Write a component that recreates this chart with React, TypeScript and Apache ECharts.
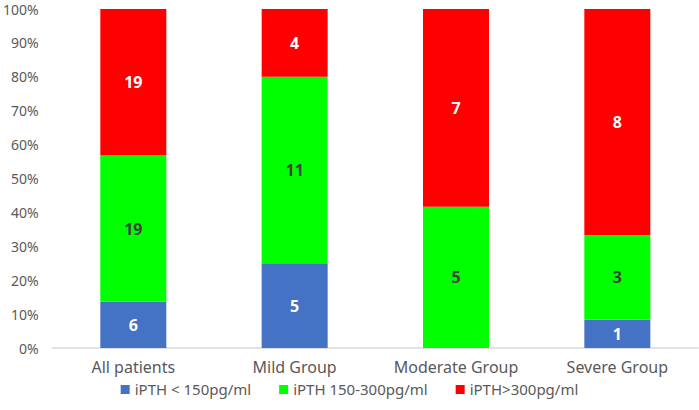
import React, { useEffect, useRef } from "react";
import * as echarts from "echarts";

const categories = ["All patients", "Mild Group", "Moderate Group", "Severe Group"];
const seriesNames = ["iPTH < 150pg/ml", "iPTH 150-300pg/ml", "iPTH>300pg/ml"];
const lowCounts = [6, 5, 0, 1];
const midCounts = [19, 11, 5, 3];
const highCounts = [19, 4, 7, 8];
const colors = ["#4472C4", "#00FF00", "#FF0000"];
const labelColors = ["#FFFFFF", "#404040", "#FFFFFF"];

export default function App() {
  const ref = useRef<HTMLDivElement>(null);
  useEffect(() => {
    const chart = echarts.init(ref.current!, null, { renderer: "svg" });
    const all = [lowCounts, midCounts, highCounts];
    const totals = categories.map((_, i) => all.reduce((s, a) => s + a[i], 0));
    const font = "'Noto Sans', 'Noto Sans CJK SC', sans-serif";
    chart.setOption({
      animation: false,
      textStyle: { fontFamily: font },
      grid: { left: 47, right: 1, top: 9, bottom: 62, containLabel: false },
      legend: {
        bottom: 8,
        left: "center",
        itemWidth: 9,
        itemHeight: 9,
        itemGap: 28,
        icon: "rect",
        textStyle: { color: "#595959", fontSize: 15, fontFamily: font },
        data: seriesNames,
      },
      xAxis: {
        type: "category",
        data: categories,
        axisLine: { lineStyle: { color: "#D9D9D9", width: 1.5 } },
        axisTick: { show: false },
        axisLabel: { color: "#595959", fontSize: 16, margin: 11, interval: 0, fontFamily: font },
      },
      yAxis: {
        type: "value",
        min: 0,
        max: 1,
        interval: 0.1,
        splitLine: { show: false },
        axisLine: { show: false },
        axisTick: { show: false },
        axisLabel: {
          color: "#595959",
          fontSize: 14,
          margin: 14,
          fontFamily: font,
          formatter: (v: number) => Math.round(v * 100) + "%",
        },
      },
      series: all.map((counts, si) => ({
        name: seriesNames[si],
        type: "bar",
        stack: "total",
        barWidth: 66,
        itemStyle: { color: colors[si] },
        label: {
          show: true,
          position: "inside",
          color: labelColors[si],
          fontSize: 16,
          fontWeight: "bold",
          fontFamily: font,
          formatter: (p: any) => (counts[p.dataIndex] > 0 ? String(counts[p.dataIndex]) : ""),
        },
        data: counts.map((c, i) => c / totals[i]),
      })),
    });
    return () => chart.dispose();
  }, []);
  return (
    <div
      ref={ref}
      style={{ position: "fixed", left: 0, top: 0, width: 699, height: 410, background: "#fff" }}
    />
  );
}
